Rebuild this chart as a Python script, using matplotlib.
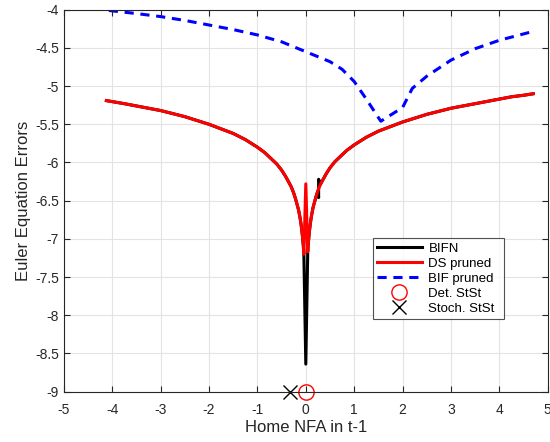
import numpy as np
import matplotlib
matplotlib.use('Agg')
import matplotlib.pyplot as plt

plt.rcParams['font.family'] = ['Liberation Sans', 'DejaVu Sans']

# DS pruned (red)
ds_x = [-4.12, -3.75, -3.5, -3.25, -3.0, -2.75, -2.5, -2.25, -2.0, -1.75, -1.5, -1.25,
        -1.0, -0.85, -0.7, -0.6, -0.5, -0.42, -0.35, -0.3, -0.25, -0.21, -0.18, -0.15,
        -0.12, -0.1, -0.08, -0.065, -0.05, -0.04, 0.0,
        0.04, 0.05, 0.065, 0.08, 0.1, 0.12, 0.15, 0.18, 0.21, 0.25, 0.3, 0.35, 0.42,
        0.5, 0.6, 0.7, 0.85, 1.0, 1.25, 1.5, 1.75, 2.0, 2.25, 2.5, 2.75, 3.0, 3.25,
        3.5, 3.75, 4.0, 4.25, 4.5, 4.7]
ds_y = [-5.19, -5.23, -5.26, -5.29, -5.32, -5.36, -5.40, -5.45, -5.50, -5.56, -5.62, -5.70,
        -5.80, -5.87, -5.96, -6.02, -6.10, -6.18, -6.26, -6.32, -6.40, -6.48, -6.55, -6.62,
        -6.72, -6.80, -6.90, -6.99, -7.10, -7.20, -6.28,
        -7.17, -7.07, -6.96, -6.87, -6.77, -6.69, -6.59, -6.52, -6.45, -6.37, -6.29, -6.23, -6.15,
        -6.07, -5.99, -5.93, -5.84, -5.77, -5.67, -5.59, -5.53, -5.47, -5.42, -5.37, -5.33, -5.29, -5.26,
        -5.23, -5.20, -5.17, -5.14, -5.12, -5.10]

# BIFN (black) - same path, hidden under the red line except near zero
bifn_x = [-4.12, -3.75, -3.5, -3.25, -3.0, -2.75, -2.5, -2.25, -2.0, -1.75, -1.5, -1.25,
          -1.0, -0.85, -0.7, -0.6, -0.5, -0.42, -0.35, -0.3, -0.25, -0.21, -0.18, -0.15,
          -0.12, -0.1, -0.08, -0.065, -0.05, -0.04, 0.0,
          0.04, 0.05, 0.065, 0.08, 0.1, 0.12, 0.15, 0.18, 0.21, 0.25, 0.265, 0.265, 0.3, 0.35, 0.42,
          0.5, 0.6, 0.7, 0.85, 1.0, 1.25, 1.5, 1.75, 2.0, 2.25, 2.5, 2.75, 3.0, 3.25,
          3.5, 3.75, 4.0, 4.25, 4.5, 4.7]
bifn_y = [-5.19, -5.23, -5.26, -5.29, -5.32, -5.36, -5.40, -5.45, -5.50, -5.56, -5.62, -5.70,
          -5.80, -5.87, -5.96, -6.02, -6.10, -6.18, -6.26, -6.32, -6.40, -6.48, -6.55, -6.62,
          -6.72, -6.80, -6.90, -6.99, -7.10, -7.20, -8.64,
          -7.17, -7.07, -6.96, -6.87, -6.77, -6.69, -6.59, -6.52, -6.45, -6.37, -6.46, -6.22, -6.29, -6.23, -6.15,
          -6.07, -5.99, -5.93, -5.84, -5.77, -5.67, -5.59, -5.53, -5.47, -5.42, -5.37, -5.33, -5.29, -5.26,
          -5.23, -5.20, -5.17, -5.14, -5.12, -5.10]

# BIF pruned (blue dashed)
bif_x = [-4.07, -3.5, -3.0, -2.5, -2.0, -1.5, -1.0, -0.5, 0.0, 0.5, 0.75, 1.0, 1.25,
         1.55, 2.0, 2.2, 2.5, 3.0, 3.5, 4.0, 4.66]
bif_y = [-4.01, -4.05, -4.09, -4.14, -4.20, -4.26, -4.33, -4.42, -4.55, -4.68, -4.78, -4.94, -5.17,
         -5.46, -5.28, -5.03, -4.87, -4.66, -4.51, -4.40, -4.29]

det_ss = (0.0, -9.0)
stoch_ss = (-0.32, -9.0)

xticks = [-5, -4, -3, -2, -1, 0, 1, 2, 3, 4, 5]
yticks = [-9, -8.5, -8, -7.5, -7, -6.5, -6, -5.5, -5, -4.5, -4]

fig = plt.figure(figsize=(5.5, 4.42), dpi=100)
ax = fig.add_axes([0.116, 0.114, 0.88, 0.864])

ax.plot(bifn_x, bifn_y, color='black', lw=2.2, label='BIFN')
ax.plot(ds_x, ds_y, color='red', lw=2.2, label='DS pruned')
ax.plot(bif_x, bif_y, color='blue', lw=2.2, ls=(0, (3, 2.2)), label='BIF pruned')
ax.plot(*det_ss, 'o', mfc='none', mec='red', ms=11, mew=1.0, clip_on=False, label='Det. StSt')
ax.plot(*stoch_ss, 'x', color='black', ms=10, mew=1.0, clip_on=False, label='Stoch. StSt')

ax.set_xlim(-5, 5)
ax.set_ylim(-9, -4)
ax.set_xticks(xticks)
ax.set_xticklabels([str(t) for t in xticks])
ax.set_yticks(yticks)
ax.set_yticklabels(['%g' % t for t in yticks])
ax.grid(True, color='#e3e3e3', lw=0.8)
ax.set_axisbelow(True)
ax.tick_params(direction='in', top=True, right=True, labelsize=10, colors='#262626',
               length=4, width=0.8)
ax.tick_params(axis='x', pad=8)
for s in ax.spines.values():
    s.set_color('#262626')
    s.set_linewidth(0.8)

ax.set_xlabel('Home NFA in t-1', fontsize=12, color='#262626', labelpad=2)
ax.set_ylabel('Euler Equation Errors', fontsize=12, color='#262626', labelpad=3)

leg = ax.legend(loc='lower left', bbox_to_anchor=(0.639, 0.19, 0.27, 0.23), mode='expand',
                fontsize=9.5, handlelength=3.4, frameon=True, fancybox=False,
                borderaxespad=0, labelspacing=0.22, handletextpad=0.5, borderpad=0.3)
leg.get_frame().set_edgecolor('#262626')
leg.get_frame().set_linewidth(0.8)

fig.savefig('out.png', dpi=100)
